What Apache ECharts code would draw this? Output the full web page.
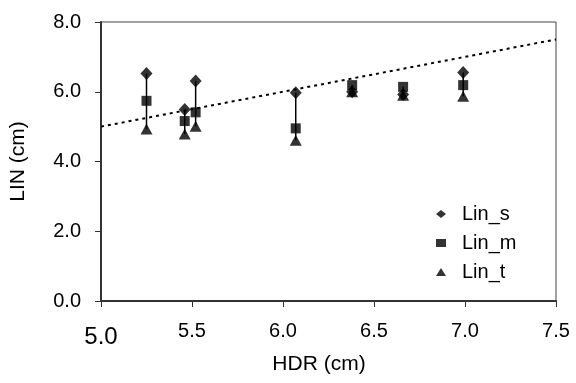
<!DOCTYPE html>
<html>
<head>
<meta charset="utf-8">
<script src="https://cdn.jsdelivr.net/npm/echarts@6/dist/echarts.min.js"></script>
<style>html,body{margin:0;padding:0;background:#fff}#c{width:576px;height:383px}</style>
</head>
<body>
<div id="c"></div>
<script>
// HDR (cm) values
var hdr = [5.25, 5.46, 5.52, 6.07, 6.38, 6.66, 6.99];
// LIN series (cm)
var linS = [6.52, 5.49, 6.31, 5.97, 6.00, 5.92, 6.55];
var linM = [5.74, 5.16, 5.41, 4.95, 6.19, 6.14, 6.19];
var linT = [4.93, 4.79, 5.01, 4.61, 6.00, 5.90, 5.87];
// identity reference line
var refX = [5.0, 7.5];
var refY = [5.0, 7.5];
var xTicks = [5.0, 5.5, 6.0, 6.5, 7.0, 7.5];
var yTicks = [0.0, 2.0, 4.0, 6.0, 8.0];

function pairs(xs, ys){ return xs.map(function(x,i){ return [x, ys[i]]; }); }
var ranges = hdr.map(function(x,i){
  var v=[linS[i],linM[i],linT[i]];
  return [x, Math.min.apply(null,v), Math.max.apply(null,v)];
});

var chart = echarts.init(document.getElementById('c'), null, {renderer:'canvas'});
var font = 'Liberation Sans, Arial, sans-serif';
chart.setOption({
  animation:false,
  grid:{left:101, right:20, top:22, bottom:82, show:true, borderColor:'#444', borderWidth:1},
  xAxis:{
    type:'value', min:xTicks[0], max:xTicks[xTicks.length-1], interval:0.5,
    name:'HDR (cm)', nameLocation:'middle', nameGap:50,
    nameTextStyle:{fontFamily:font, fontSize:21, color:'#000', padding:[0,19,0,0]},
    axisLine:{lineStyle:{color:'#333', width:2}},
    axisTick:{show:true, length:6, lineStyle:{color:'#333'}},
    splitLine:{show:false},
    axisLabel:{margin:20, fontFamily:font, fontSize:20, color:'#000',
      formatter:function(v){ return v===xTicks[0] ? '{big|'+v.toFixed(1)+'}' : v.toFixed(1); },
      rich:{big:{fontFamily:font, fontSize:24, color:'#000', padding:[4,0,0,0]}}}
  },
  yAxis:{
    type:'value', min:yTicks[0], max:yTicks[yTicks.length-1], interval:2,
    name:'LIN (cm)', nameLocation:'middle', nameGap:72,
    nameTextStyle:{fontFamily:font, fontSize:21, color:'#000'},
    axisLine:{show:true, lineStyle:{color:'#333', width:2}},
    axisTick:{show:true, length:6, lineStyle:{color:'#333'}},
    splitLine:{show:false},
    axisLabel:{margin:20, fontFamily:font, fontSize:20, color:'#000',
      formatter:function(v){ return v.toFixed(1); }}
  },
  legend:{
    orient:'vertical', left:431, top:199, itemGap:9, itemWidth:10, itemHeight:8,
    textStyle:{fontFamily:font, fontSize:20, color:'#000', lineHeight:20, padding:[0,0,0,11]},
    data:['Lin_s','Lin_m','Lin_t']
  },
  series:[
    {type:'line', name:'ref', data:pairs(refX, refY), symbol:'none', silent:true,
      lineStyle:{color:'#000', width:2, type:[3,4]}, z:1},
    {type:'custom', name:'range', data:ranges, z:2,
      renderItem:function(params, api){
        var p1 = api.coord([api.value(0), api.value(1)]);
        var p2 = api.coord([api.value(0), api.value(2)]);
        return {type:'line', shape:{x1:p1[0], y1:p1[1], x2:p2[0], y2:p2[1]},
          style:{stroke:'#000', lineWidth:1.5}};
      }},
    {type:'scatter', name:'Lin_s', data:pairs(hdr, linS), symbol:'diamond', symbolSize:[12,13],
      itemStyle:{color:'#000'}, z:3},
    {type:'scatter', name:'Lin_m', data:pairs(hdr, linM), symbol:'rect', symbolSize:10,
      itemStyle:{color:'#000'}, z:3},
    {type:'scatter', name:'Lin_t', data:pairs(hdr, linT), symbol:'triangle', symbolSize:[12,11],
      itemStyle:{color:'#000'}, z:3}
  ]
});
</script>
</body>
</html>
